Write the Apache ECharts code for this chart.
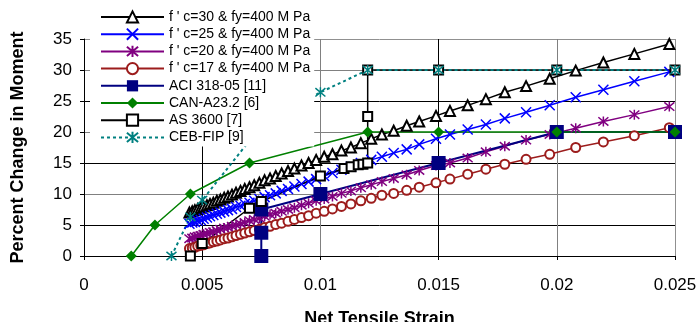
<!DOCTYPE html>
<html><head><meta charset="utf-8">
<script src="https://cdn.jsdelivr.net/npm/echarts@6/dist/echarts.min.js"></script>
<style>html,body{margin:0;padding:0;background:#fff}#c{width:699px;height:322px}</style>
</head><body><div id="c"></div>
<script>
const xTickLabels = ['0','0.005','0.01','0.015','0.02','0.025'];
const yTickLabels = ['0','5','10','15','20','25','30','35'];
const seriesNames = ["f ' c=30 & fy=400 M Pa","f ' c=25 & fy=400 M Pa","f ' c=20 & fy=400 M Pa","f ' c=17 & fy=400 M Pa","ACI 318-05 [11]","CAN-A23.2 [6]","AS 3600 [7]","CEB-FIP [9]"];

const xGrid = [0.00446,0.00458,0.00469,0.00481,0.00494,0.00506,0.00520,0.00533,0.00547,0.00562,0.00577,0.00593,0.00609,0.00626,0.00643,0.00662,0.00680,0.00700,0.00720,0.00742,0.00764,0.00787,0.00811,0.00836,0.00863,0.00890,0.00920,0.00950,0.00982,0.01016,0.01051,0.01089,0.01129,0.01171,0.01215,0.0126,0.0131,0.01365,0.01418,0.01489,0.01548,0.01623,0.0170,0.0178,0.0187,0.0197,0.0208,0.02197,0.02328,0.02476];
const fc30 = [7.0,7.2,7.4,7.6,7.8,8.0,8.2,8.4,8.6,8.9,9.1,9.4,9.6,9.9,10.2,10.5,10.8,11.1,11.4,11.8,12.2,12.5,12.9,13.3,13.7,14.1,14.6,15.0,15.5,16.0,16.4,17.0,17.5,18.2,18.9,19.6,20.2,21.0,21.7,22.6,23.4,24.3,25.3,26.4,27.4,28.6,29.9,31.2,32.6,34.2];
const fc25 = [5.2,5.4,5.5,5.7,5.8,6.0,6.2,6.4,6.6,6.8,7.0,7.2,7.4,7.6,7.9,8.1,8.4,8.6,8.9,9.2,9.5,9.8,10.1,10.5,10.8,11.2,11.6,12.0,12.4,12.9,13.4,13.9,14.4,15.0,15.5,16.0,16.6,17.2,18.0,18.9,19.6,20.4,21.2,22.2,23.2,24.3,25.6,26.8,28.2,29.7];
const fc20 = [2.8,2.9,3.1,3.2,3.3,3.5,3.6,3.8,3.9,4.1,4.3,4.5,4.6,4.8,5.0,5.2,5.4,5.7,5.9,6.1,6.4,6.7,6.9,7.2,7.5,7.8,8.2,8.5,8.9,9.2,9.6,10.1,10.5,11.0,11.5,12.0,12.5,13.1,13.8,14.6,15.0,15.8,16.8,17.7,18.7,19.6,20.6,21.7,22.8,24.1];
const fc17 = [1.2,1.3,1.4,1.6,1.7,1.8,2.0,2.1,2.3,2.4,2.6,2.8,2.9,3.1,3.3,3.5,3.7,3.9,4.1,4.3,4.6,4.8,5.1,5.3,5.6,5.9,6.2,6.5,6.9,7.2,7.6,8.0,8.4,8.9,9.3,9.8,10.1,10.6,11.1,11.8,12.4,13.2,14.0,14.8,15.6,16.4,17.5,18.4,19.4,20.7];

const aciX = [0.0075,0.0075,0.0075,0.01,0.015,0.02,0.025];
const aciY = [0,3.75,7.5,10,15,20,20];
const canX = [0.002,0.003,0.0045,0.007,0.012,0.015,0.02,0.025];
const canY = [0,5,10,15,20,20,20,20];
const asX = [0.0045,0.005,0.007,0.0075,0.01,0.011,0.0113,0.0116,0.0118,0.012,0.012,0.012,0.015,0.02,0.025];
const asY = [0,2,7.7,8.8,12.9,14.1,14.4,14.7,14.8,15,22.5,30,30,30,30];
const cebX = [0.0037,0.0045,0.005,0.0075,0.01,0.012,0.015,0.02,0.025];
const cebY = [0,6.3,9,21,26.4,30,30,30,30];

const pairs = (xs, ys) => xs.map((x, i) => [x, ys[i]]);
const FONT = '"Liberation Sans", Arial, sans-serif';
const X_SYM = 'path://M0,0L10,10M10,0L0,10';
const STAR_SYM = 'path://M0,0L10,10M10,0L0,10M5,-1L5,11';

const chart = echarts.init(document.getElementById('c'), null, {renderer: 'canvas'});
chart.setOption({
  animation: false,
  backgroundColor: '#fff',
  textStyle: {fontFamily: FONT},
  grid: {left: 84, right: 24, top: 39, bottom: 66, containLabel: false, outerBoundsMode: 'none'},
  legend: {
    orient: 'vertical', left: 90, top: 9,
    padding: [1, 4, 2, 10],
    backgroundColor: '#fff',
    itemWidth: 63, itemHeight: 14, itemGap: 3.2,
    z: 10,
    textStyle: {fontFamily: FONT, fontSize: 14, color: '#000', lineHeight: 14},
    data: seriesNames
  },
  xAxis: {
    type: 'value', min: 0, max: 0.025, interval: 0.005,
    name: 'Net Tensile Strain', nameLocation: 'middle', nameGap: 54,
    nameTextStyle: {fontFamily: FONT, fontSize: 18, fontWeight: 'bold', color: '#000'},
    axisLine: {show: true, onZero: false, lineStyle: {color: '#000', width: 1}},
    axisTick: {show: true, length: 4, lineStyle: {color: '#000'}},
    axisLabel: {fontFamily: FONT, fontSize: 17, color: '#000', margin: 21,
      formatter: v => xTickLabels[Math.round(v / 0.005)]},
    splitLine: {show: true, lineStyle: {color: ['#000','#000','#808080','#000','#808080','#909090'], width: 1}}
  },
  yAxis: {
    type: 'value', min: 0, max: 35, interval: 5,
    name: 'Percent Change in Moment', nameLocation: 'middle', nameGap: 57,
    nameTextStyle: {fontFamily: FONT, fontSize: 18, fontWeight: 'bold', color: '#000'},
    axisLine: {show: true, onZero: false, lineStyle: {color: '#000', width: 1}},
    axisTick: {show: true, length: 4, lineStyle: {color: '#000'}},
    axisLabel: {fontFamily: FONT, fontSize: 17, color: '#000', margin: 12,
      formatter: v => yTickLabels[Math.round(v / 5)]},
    splitLine: {show: true, lineStyle: {color: ['#000','#000','#808080','#000','#808080','#000','#808080','#909090'], width: 1}}
  },
  series: [
    {name: seriesNames[0], type: 'line', data: pairs(xGrid, fc30), symbol: 'emptyTriangle', symbolSize: 10,
      itemStyle: {color: '#000', borderWidth: 1.2}, lineStyle: {color: '#000', width: 1.5}},
    {name: seriesNames[1], type: 'line', data: pairs(xGrid, fc25), symbol: X_SYM, symbolSize: 10,
      itemStyle: {color: '#0000ff', borderColor: '#0000ff', borderWidth: 1.5}, lineStyle: {color: '#0000ff', width: 1.5}},
    {name: seriesNames[2], type: 'line', data: pairs(xGrid, fc20), symbol: STAR_SYM, symbolSize: 10,
      itemStyle: {color: '#800080', borderColor: '#800080', borderWidth: 1.5}, lineStyle: {color: '#800080', width: 1.5}},
    {name: seriesNames[3], type: 'line', data: pairs(xGrid, fc17), symbol: 'emptyCircle', symbolSize: 9,
      itemStyle: {color: '#9c1c1c', borderWidth: 1.2}, lineStyle: {color: '#9c1c1c', width: 1.5}},
    {name: seriesNames[4], type: 'line', data: pairs(aciX, aciY), symbol: 'rect', symbolSize: 14,
      itemStyle: {color: '#000080'}, lineStyle: {color: '#000080', width: 2}},
    {name: seriesNames[5], type: 'line', data: pairs(canX, canY), symbol: 'diamond', symbolSize: 11,
      itemStyle: {color: '#008000'}, lineStyle: {color: '#008000', width: 1.5}},
    {name: seriesNames[6], type: 'line', data: pairs(asX, asY), symbol: 'emptyRect', symbolSize: 9,
      itemStyle: {color: '#000', borderWidth: 1.2}, lineStyle: {color: '#000', width: 1.5}},
    {name: seriesNames[7], type: 'line', data: pairs(cebX, cebY), symbol: STAR_SYM, symbolSize: 10,
      itemStyle: {color: '#008080', borderColor: '#008080', borderWidth: 1.5}, lineStyle: {color: '#008080', width: 2, type: [3, 3]}}
  ]
});
</script></body></html>
